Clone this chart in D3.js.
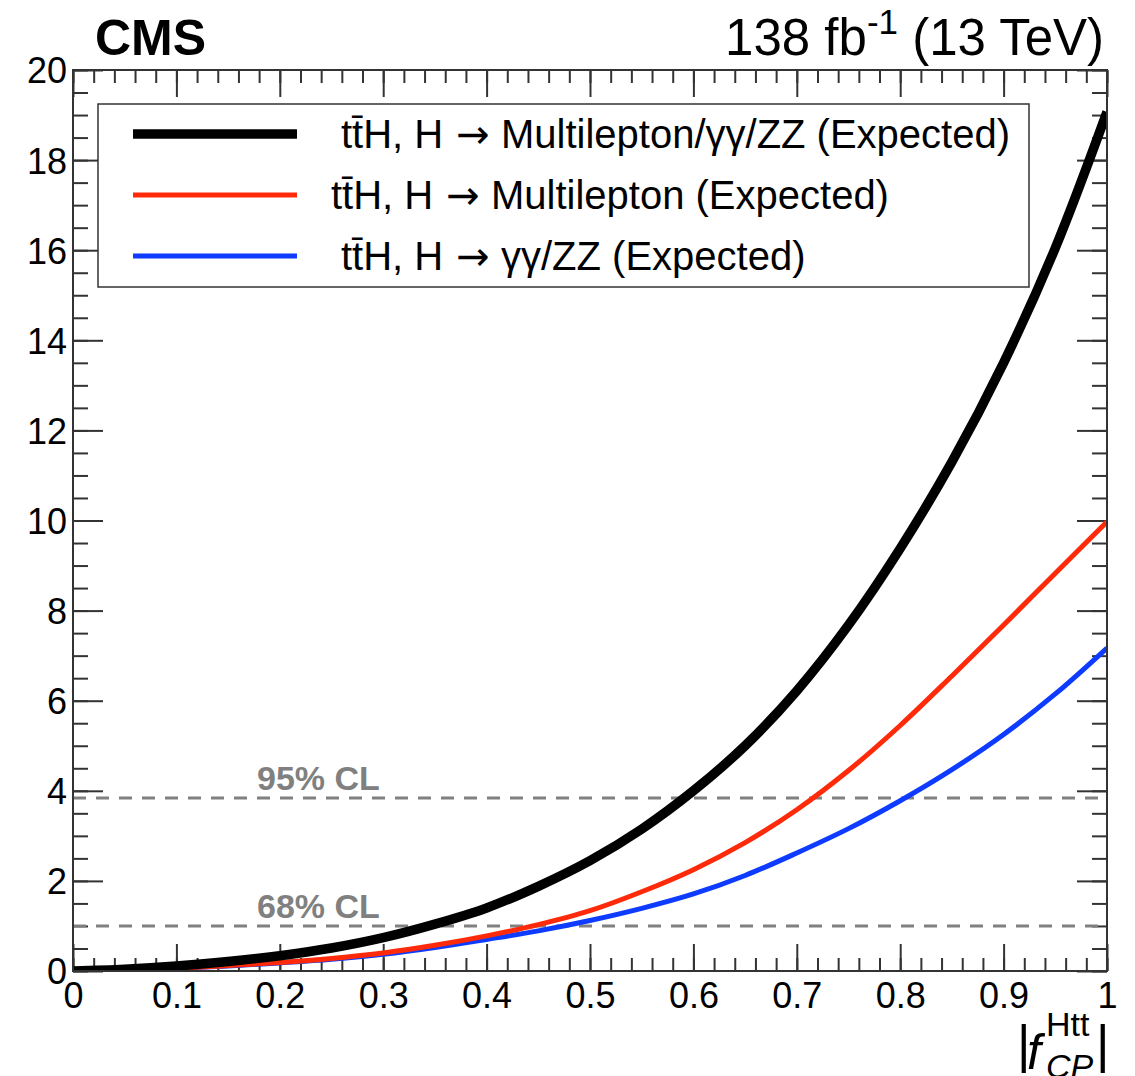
<!DOCTYPE html>
<html>
<head>
<meta charset="utf-8">
<script src="https://d3js.org/d3.v7.min.js"></script>
<style>
  body { margin: 0; background: #fff; }
  text { font-family: "Liberation Sans", Arial, Helvetica, sans-serif; }
</style>
</head>
<body>
<script>
// |f_CP^Htt| scan points and expected -2 delta lnL per channel
var fcp = [0, 0.05, 0.1, 0.15, 0.2, 0.25, 0.3, 0.35, 0.4, 0.45, 0.5,
           0.55, 0.6, 0.65, 0.7, 0.75, 0.8, 0.85, 0.9, 0.95, 1.0];
var combined = [0.0, 0.04, 0.11, 0.21, 0.34, 0.51, 0.74, 1.04, 1.40, 1.88, 2.45,
                3.15, 4.0, 5.0, 6.22, 7.68, 9.38, 11.3, 13.5, 16.05, 19.07];
var multilepton = [0.0, 0.02, 0.06, 0.12, 0.19, 0.28, 0.40, 0.57, 0.78, 1.03, 1.34,
                   1.76, 2.25, 2.85, 3.58, 4.45, 5.45, 6.55, 7.68, 8.83, 9.97];
var gammaZZ = [0.0, 0.02, 0.06, 0.11, 0.18, 0.26, 0.37, 0.52, 0.70, 0.89, 1.12,
               1.39, 1.71, 2.12, 2.62, 3.16, 3.78, 4.47, 5.25, 6.15, 7.17];

var seriesNames = ['tt\u0304H, H \u2192 Multilepton/\u03b3\u03b3/ZZ (Expected)',
                   'tt\u0304H, H \u2192 Multilepton (Expected)',
                   'tt\u0304H, H \u2192 \u03b3\u03b3/ZZ (Expected)'];
var clValues = [1.0, 3.84];
var clNames = ['68% CL', '95% CL'];

var xMajor = [0, 0.1, 0.2, 0.3, 0.4, 0.5, 0.6, 0.7, 0.8, 0.9, 1];
var yMajor = [0, 2, 4, 6, 8, 10, 12, 14, 16, 18, 20];

var W = 1135, H = 1076;
var margin = { top: 70, right: 28, bottom: 105, left: 73 };
var pw = W - margin.left - margin.right,
    ph = H - margin.top - margin.bottom;

var series = [
  { name: seriesNames[0], values: combined, color: '#000000', width: 9.5 },
  { name: seriesNames[1], values: multilepton, color: '#ff2a0a', width: 5 },
  { name: seriesNames[2], values: gammaZZ, color: '#0d3bff', width: 5 }
];

var x = d3.scaleLinear().domain([0, 1]).range([0, pw]);
var y = d3.scaleLinear().domain([0, 20]).range([ph, 0]);

var xMinor = d3.range(0, 50 + 1).map(function(i) { return i / 50; });
var yMinor = d3.range(0, 40 + 1).map(function(i) { return i / 2; });

var svg = d3.select('body').append('svg')
  .attr('width', W)
  .attr('height', H);

var g = svg.append('g')
  .attr('transform', 'translate(' + margin.left + ',' + margin.top + ')');

var clipId = 'plotclip';
svg.append('defs').append('clipPath').attr('id', clipId)
  .append('rect').attr('x', 0).attr('y', -10).attr('width', pw).attr('height', ph + 10);

// axes: ticks pointing inward on all four sides
function styleAxis(sel) {
  sel.select('.domain').remove();
  sel.selectAll('line').attr('stroke', '#333').attr('stroke-width', 2);
}

g.append('g').attr('transform', 'translate(0,' + ph + ')')
  .call(d3.axisBottom(x).tickValues(xMinor).tickSize(-13).tickFormat(''))
  .call(styleAxis);
g.append('g').attr('transform', 'translate(0,' + ph + ')')
  .call(d3.axisBottom(x).tickValues(xMajor).tickSize(-27).tickPadding(0)
    .tickFormat(function(d) { return d3.format('')(d); }))
  .call(styleAxis)
  .selectAll('text')
    .attr('y', 37).attr('dy', 0)
    .style('font-size', '36px').attr('fill', '#000');
g.append('g')
  .call(d3.axisTop(x).tickValues(xMinor).tickSize(-13).tickFormat(''))
  .call(styleAxis);
g.append('g')
  .call(d3.axisTop(x).tickValues(xMajor).tickSize(-27).tickFormat(''))
  .call(styleAxis);

g.append('g')
  .call(d3.axisLeft(y).tickValues(yMinor).tickSize(-15).tickFormat(''))
  .call(styleAxis);
g.append('g')
  .call(d3.axisLeft(y).tickValues(yMajor).tickSize(-30).tickPadding(0))
  .call(styleAxis)
  .selectAll('text')
    .attr('x', -6).attr('dy', '0.36em')
    .style('font-size', '36px').attr('fill', '#000');
g.append('g').attr('transform', 'translate(' + pw + ',0)')
  .call(d3.axisRight(y).tickValues(yMinor).tickSize(-15).tickFormat(''))
  .call(styleAxis);
g.append('g').attr('transform', 'translate(' + pw + ',0)')
  .call(d3.axisRight(y).tickValues(yMajor).tickSize(-30).tickFormat(''))
  .call(styleAxis);

// CL reference lines
g.selectAll('.cl')
  .data(clValues)
  .enter()
  .append('line')
    .attr('x1', 0).attr('x2', pw)
    .attr('y1', function(d) { return y(d); })
    .attr('y2', function(d) { return y(d); })
    .attr('stroke', '#808080')
    .attr('stroke-width', 3)
    .attr('stroke-dasharray', '13,10');

g.selectAll('.clLabel')
  .data(clValues)
  .enter()
  .append('text')
    .text(function(d, i) { return clNames[i]; })
    .attr('x', 184)
    .attr('y', function(d) { return y(d) - 8; })
    .attr('fill', '#808080')
    .style('font-weight', 'bold')
    .style('font-size', '34px');

// curves
var line = d3.line()
  .x(function(d, i) { return x(fcp[i]); })
  .y(function(d) { return y(d); })
  .curve(d3.curveCatmullRom.alpha(0.5));

var curves = g.append('g').attr('clip-path', 'url(#' + clipId + ')');
curves.selectAll('.curve')
  .data(series.slice().reverse())
  .enter()
  .append('path')
    .attr('d', function(d) { return line(d.values); })
    .attr('fill', 'none')
    .attr('stroke', function(d) { return d.color; })
    .attr('stroke-width', function(d) { return d.width; });

// frame
g.append('rect')
  .attr('width', pw).attr('height', ph)
  .attr('fill', 'none')
  .attr('stroke', '#333')
  .attr('stroke-width', 2);

// legend
var legend = svg.append('g');
legend.append('rect')
  .attr('x', 98).attr('y', 104)
  .attr('width', 931).attr('height', 183)
  .attr('fill', '#fff')
  .attr('stroke', '#333')
  .attr('stroke-width', 1.5);

var legendRows = legend.selectAll('.row')
  .data(series)
  .enter()
  .append('g')
    .attr('transform', function(d, i) { return 'translate(0,' + (134 + i * 61) + ')'; });

legendRows.append('line')
  .attr('x1', 133).attr('x2', 297)
  .attr('stroke', function(d) { return d.color; })
  .attr('stroke-width', function(d) { return d.width; });

var legendText = legendRows.append('text')
  .attr('x', function(d, i) { return i === 1 ? 331 : 341; })
  .attr('y', 14)
  .style('font-size', '40px');
legendText.append('tspan').text(function(d) { return d.name.split('\u2192')[0]; });
legendText.append('tspan').text('\u2192').attr('dx', 2)
  .style('font-family', '"DejaVu Sans", sans-serif');
legendText.append('tspan').text(function(d) { return d.name.split('\u2192')[1]; });

// header
svg.append('text')
  .text('CMS')
  .attr('x', 95).attr('y', 55)
  .style('font-weight', 'bold')
  .style('font-size', '50px');

var lumi = svg.append('text')
  .attr('x', 1104).attr('y', 55)
  .attr('text-anchor', 'end')
  .style('font-size', '51px');
lumi.append('tspan').text('138 fb');
lumi.append('tspan').text('-1').attr('dy', -21).style('font-size', '35px');
lumi.append('tspan').text(' (13 TeV)').attr('dy', 21);

// x-axis title |f_CP^Htt|
var xt = svg.append('g');
xt.append('text').text('|').attr('x', 1017).attr('y', 1062).style('font-size', '52px');
xt.append('text').text('f').attr('x', 1027).attr('y', 1069)
  .style('font-style', 'italic').style('font-size', '50px');
xt.append('text').text('Htt').attr('x', 1046).attr('y', 1036).style('font-size', '34px');
xt.append('text').text('CP').attr('x', 1046).attr('y', 1078)
  .style('font-style', 'italic').style('font-size', '34px');
xt.append('text').text('|').attr('x', 1096).attr('y', 1062).style('font-size', '52px');
</script>
</body>
</html>
